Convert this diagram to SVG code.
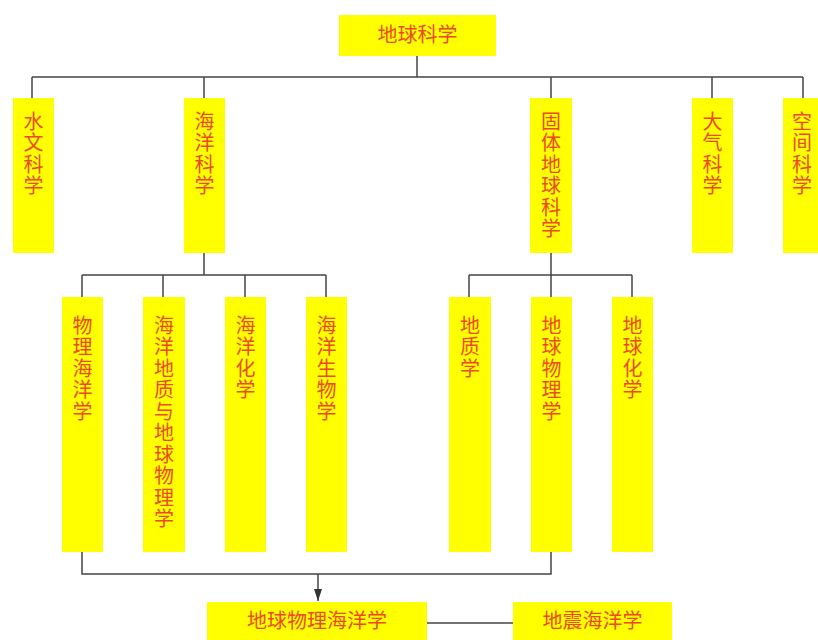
<svg xmlns="http://www.w3.org/2000/svg" width="818" height="640" viewBox="0 0 818 640">
<defs>
<style>
.box{fill:#ffff00;}
.t{font-family:"Noto Sans CJK SC","Noto Sans",sans-serif;font-size:20px;fill:#ec4a1e;text-anchor:middle;}
.v{font-family:"Noto Sans CJK SC","Noto Sans",sans-serif;font-size:20px;fill:#ec4a1e;writing-mode:vertical-rl;text-orientation:upright;letter-spacing:1.5px;text-anchor:start;}
.c{stroke:#444;stroke-width:1.5;fill:none;}
</style>
<marker id="arr" viewBox="0 0 12 8" refX="12" refY="4" markerWidth="12" markerHeight="8" orient="auto" markerUnits="userSpaceOnUse">
<path d="M0,0 L12,4 L0,8 z" fill="#333"/>
</marker>
</defs>
<rect width="818" height="640" fill="#fff"/>
<g id="connectors">
<path class="c" d="M417,56 V77 M32,77 H803 M32,77 V98 M204,77 V98 M551,77 V98 M712,77 V98 M803,77 V98"/>
<path class="c" d="M204,253 V275 M82,275 H326 M82,275 V297 M163,275 V297 M245,275 V297 M326,275 V297"/>
<path class="c" d="M551,253 V275 M469,275 H632 M469,275 V297 M551,275 V297 M632,275 V297"/>
<path class="c" d="M82,552 V574 H551 V552"/>
<line class="c" x1="318" y1="574" x2="318" y2="601" marker-end="url(#arr)"/>
<line class="c" x1="427" y1="623" x2="513" y2="623"/>
</g>
<g id="n-earth"><rect class="box" x="339" y="15" width="157" height="41"/><text class="t" x="417.5" y="42">地球科学</text></g>
<g id="n-hydro"><rect class="box" x="13" y="98" width="41" height="155"/><text class="v" x="33.5" y="111">水文科学</text></g>
<g id="n-ocean"><rect class="box" x="184" y="98" width="41" height="155"/><text class="v" x="204.5" y="111">海洋科学</text></g>
<g id="n-solid"><rect class="box" x="530" y="98" width="42" height="155"/><text class="v" x="551" y="111">固体地球科学</text></g>
<g id="n-atmo"><rect class="box" x="692" y="98" width="41" height="155"/><text class="v" x="712.5" y="111">大气科学</text></g>
<g id="n-space"><rect class="box" x="783" y="98" width="40" height="155"/><text class="v" x="802" y="111">空间科学</text></g>
<g id="n-phyocean"><rect class="box" x="62" y="297" width="41" height="255"/><text class="v" x="82.5" y="315">物理海洋学</text></g>
<g id="n-geoocean"><rect class="box" x="143" y="297" width="42" height="255"/><text class="v" x="164" y="315">海洋地质与地球物理学</text></g>
<g id="n-chemocean"><rect class="box" x="225" y="297" width="41" height="255"/><text class="v" x="245.5" y="315">海洋化学</text></g>
<g id="n-bioocean"><rect class="box" x="306" y="297" width="41" height="255"/><text class="v" x="326.5" y="315">海洋生物学</text></g>
<g id="n-geology"><rect class="box" x="449" y="297" width="42" height="255"/><text class="v" x="470" y="315">地质学</text></g>
<g id="n-geophys"><rect class="box" x="531" y="297" width="41" height="255"/><text class="v" x="551.5" y="315">地球物理学</text></g>
<g id="n-geochem"><rect class="box" x="612" y="297" width="41" height="255"/><text class="v" x="632.5" y="315">地球化学</text></g>
<g id="n-geophysocean"><rect class="box" x="207" y="602" width="220" height="40"/><text class="t" x="317" y="628">地球物理海洋学</text></g>
<g id="n-seismocean"><rect class="box" x="513" y="602" width="159" height="40"/><text class="t" x="592.5" y="628">地震海洋学</text></g>
</svg>
